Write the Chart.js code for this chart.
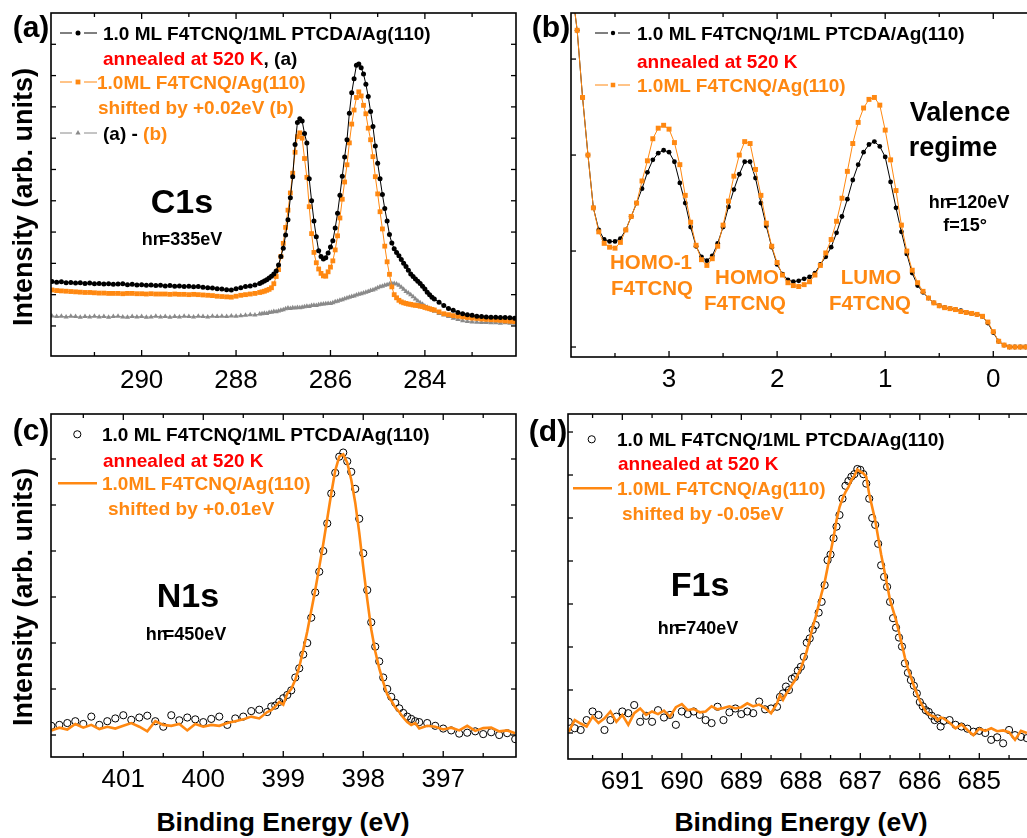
<!DOCTYPE html>
<html>
<head>
<meta charset="utf-8">
<script src="https://cdn.jsdelivr.net/npm/chart.js@4.4.1/dist/chart.umd.min.js"></script>
<style>
  html, body { margin: 0; padding: 0; background: #fff; }
  body { width: 1027px; height: 838px; overflow: hidden; position: relative;
         font-family: "Liberation Sans", Arial, sans-serif; }
  canvas { position: absolute; }
  .t { position: absolute; white-space: nowrap; line-height: 1; font-weight: bold; color: #000; z-index: 5; }
  .c { transform: translate(-50%, -50%); }
  .l { transform: translateY(-50%); }
  .or { color: #FF8811; }
  .rd { color: #FF0000; }
  .leg { font-size: 19px; }
  .hv { font-size: 18px; }
  .hv span { margin-right: -4px; }
  .core { font-size: 34px; }
  .orb { font-size: 20.5px; color: #FF8811; }
</style>
</head>
<body>
<canvas id="panelA" width="485" height="398" style="left:41px;top:3px"></canvas>
<canvas id="panelB" width="484" height="399" style="left:561px;top:3px"></canvas>
<canvas id="panelC" width="485" height="398" style="left:41px;top:404px"></canvas>
<canvas id="panelD" width="487" height="400" style="left:558px;top:404px"></canvas>

<!-- panel letters -->
<div class="t c" style="left:31px;top:27px;font-size:30px">(a)</div>
<div class="t c" style="left:551px;top:27px;font-size:30px">(b)</div>
<div class="t c" style="left:31px;top:430px;font-size:30px">(c)</div>
<div class="t c" style="left:548px;top:431px;font-size:30px">(d)</div>

<!-- axis titles -->
<div class="t" style="left:23px;top:197px;font-size:27px;transform:translate(-50%,-50%) rotate(-90deg)">Intensity (arb. units)</div>
<div class="t" style="left:23px;top:597px;font-size:27px;transform:translate(-50%,-50%) rotate(-90deg)">Intensity (arb. units)</div>
<div class="t c" style="left:283px;top:822px;font-size:26.5px">Binding Energy (eV)</div>
<div class="t c" style="left:801px;top:822px;font-size:26.5px">Binding Energy (eV)</div>

<!-- (a) C1s -->
<div class="t l leg" style="left:103px;top:33px">1.0 ML F4TCNQ/1ML PTCDA/Ag(110)</div>
<div class="t l leg" style="left:103px;top:58px"><span class="rd">annealed at 520 K</span>, (a)</div>
<div class="t l leg or" style="left:97px;top:82px">1.0ML F4TCNQ/Ag(110)</div>
<div class="t l leg or" style="left:98px;top:107px">shifted by +0.02eV (b)</div>
<div class="t l leg" style="left:103px;top:133px">(a) - <span class="or">(b)</span></div>
<div class="t c core" style="left:182px;top:201px">C1s</div>
<div class="t c hv" style="left:182px;top:239px">h<span>n</span>=335eV</div>

<!-- (b) valence band -->
<div class="t l leg" style="left:637px;top:33px">1.0 ML F4TCNQ/1ML PTCDA/Ag(110)</div>
<div class="t l leg rd" style="left:637px;top:61px">annealed at 520 K</div>
<div class="t l leg or" style="left:637px;top:85px">1.0ML F4TCNQ/Ag(110)</div>
<div class="t c" style="left:960px;top:112px;font-size:27px">Valence</div>
<div class="t c" style="left:953px;top:147px;font-size:27px">regime</div>
<div class="t c hv" style="left:969px;top:202px">h<span>n</span>=120eV</div>
<div class="t c hv" style="left:965px;top:225px">f=15°</div>
<div class="t c orb" style="left:651px;top:262px">HOMO-1</div>
<div class="t c orb" style="left:652px;top:288px">F4TCNQ</div>
<div class="t c orb" style="left:747px;top:277px">HOMO</div>
<div class="t c orb" style="left:745px;top:303px">F4TCNQ</div>
<div class="t c orb" style="left:871px;top:277px">LUMO</div>
<div class="t c orb" style="left:870px;top:303px">F4TCNQ</div>

<!-- (c) N1s -->
<div class="t l leg" style="left:102px;top:434px">1.0 ML F4TCNQ/1ML PTCDA/Ag(110)</div>
<div class="t l leg rd" style="left:103px;top:460px">annealed at 520 K</div>
<div class="t l leg or" style="left:102px;top:483px">1.0ML F4TCNQ/Ag(110)</div>
<div class="t l leg or" style="left:108px;top:508px">shifted by +0.01eV</div>
<div class="t c core" style="left:188px;top:595px">N1s</div>
<div class="t c hv" style="left:186px;top:634px">h<span>n</span>=450eV</div>

<!-- (d) F1s -->
<div class="t l leg" style="left:617px;top:439px">1.0 ML F4TCNQ/1ML PTCDA/Ag(110)</div>
<div class="t l leg rd" style="left:618px;top:463px">annealed at 520 K</div>
<div class="t l leg or" style="left:617px;top:488px">1.0ML F4TCNQ/Ag(110)</div>
<div class="t l leg or" style="left:622px;top:513px">shifted by -0.05eV</div>
<div class="t c core" style="left:700px;top:584px">F1s</div>
<div class="t c hv" style="left:698px;top:628px">h<span>n</span>=740eV</div>

<script>
// ---------- C1s (panel a) ----------
const energiesA = [
  291.9, 291.8, 291.7, 291.6, 291.5, 291.4, 291.3, 291.2, 291.1, 291.0,
  290.9, 290.8, 290.7, 290.6, 290.5, 290.4, 290.3, 290.2, 290.1, 290.0,
  289.9, 289.8, 289.7, 289.6, 289.5, 289.4, 289.3, 289.2, 289.1, 289.0,
  288.9, 288.8, 288.7, 288.6, 288.5, 288.4, 288.3, 288.2, 288.1, 288.0,
  287.9, 287.8, 287.7, 287.6, 287.5,
  287.45, 287.40, 287.35, 287.30, 287.25, 287.20, 287.15, 287.10, 287.05, 287.00,
  286.95, 286.90, 286.85, 286.80, 286.75, 286.70, 286.65, 286.60, 286.55, 286.50,
  286.45, 286.40, 286.35, 286.30, 286.25, 286.20, 286.15, 286.10, 286.05, 286.00,
  285.95, 285.90, 285.85, 285.80, 285.75, 285.70, 285.65, 285.60, 285.55, 285.50,
  285.45, 285.40, 285.35, 285.30, 285.25, 285.20, 285.15, 285.10, 285.05, 285.00,
  284.95, 284.90, 284.85, 284.80, 284.75, 284.70, 284.65, 284.60, 284.55, 284.50,
  284.45, 284.40, 284.35, 284.30, 284.25, 284.20, 284.15, 284.10, 284.05, 284.00,
  283.95, 283.90, 283.85,
  283.8, 283.7, 283.6, 283.5, 283.4, 283.3, 283.2, 283.1, 283.0, 282.9,
  282.8, 282.7, 282.6, 282.5, 282.4, 282.3, 282.2, 282.1
];
const c1sAnnealed = [
  2.42, 2.40, 2.41, 2.38, 2.39, 2.37, 2.38, 2.36, 2.37, 2.35,
  2.36, 2.34, 2.35, 2.33, 2.34, 2.35, 2.32, 2.33, 2.31, 2.32,
  2.30, 2.31, 2.29, 2.30, 2.28, 2.29, 2.27, 2.28, 2.26, 2.27,
  2.25, 2.26, 2.24, 2.22, 2.21, 2.19, 2.18, 2.16, 2.15, 2.19,
  2.22, 2.26, 2.28, 2.31, 2.36,
  2.40, 2.44, 2.48, 2.53, 2.59, 2.66, 2.76, 2.95, 3.22, 3.48,
  3.91, 4.39, 5.10, 5.77, 6.80, 7.50, 7.62, 7.55, 7.15, 6.85,
  5.70, 5.00, 4.35, 3.85, 3.40, 3.22, 3.14, 3.18, 3.33, 3.52,
  3.72, 4.13, 4.60, 5.18, 5.78, 6.40, 6.95, 7.80, 8.45, 8.90,
  9.33, 9.37, 9.25, 9.05, 8.72, 8.33, 7.85, 7.37, 6.75, 6.20,
  5.70, 5.20, 4.75, 4.35, 3.92, 3.65, 3.47, 3.35, 3.24, 3.12,
  3.00, 2.90, 2.78, 2.66, 2.58, 2.50, 2.43, 2.36, 2.27, 2.18,
  2.08, 2.00, 1.92,
  1.86, 1.76, 1.65, 1.56, 1.50, 1.43, 1.39, 1.36, 1.34, 1.31,
  1.30, 1.29, 1.28, 1.28, 1.27, 1.27, 1.26, 1.25
];
const c1sOnAg = [
  2.15, 2.13, 2.12, 2.11, 2.10, 2.09, 2.08, 2.07, 2.07, 2.06,
  2.05, 2.05, 2.04, 2.04, 2.04, 2.03, 2.04, 2.04, 2.03, 2.03,
  2.02, 2.03, 2.02, 2.02, 2.02, 2.01, 2.02, 2.01, 2.01, 2.00,
  2.01, 2.00, 1.99, 1.98, 1.97, 1.95, 1.94, 1.93, 1.92, 1.95,
  1.98, 2.00, 2.02, 2.04, 2.07,
  2.09, 2.11, 2.14, 2.17, 2.22, 2.35, 2.58, 2.80, 3.22, 3.64,
  4.15, 4.70, 5.25, 5.88, 6.55, 7.05, 7.17, 7.00, 6.35, 5.75,
  4.81, 3.95, 3.35, 3.02, 2.82, 2.68, 2.60, 2.59, 2.73, 2.88,
  3.08, 3.43, 3.88, 4.45, 5.05, 5.60, 6.15, 6.85, 7.45, 7.90,
  8.30, 8.48, 8.35, 8.05, 7.78, 7.32, 6.95, 6.41, 5.77, 5.22,
  4.65, 4.10, 3.55, 3.05, 2.65, 2.25, 2.00, 1.90, 1.82, 1.77,
  1.74, 1.72, 1.70, 1.69, 1.67, 1.66, 1.65, 1.63, 1.62, 1.59,
  1.57, 1.55, 1.53,
  1.51, 1.45, 1.39, 1.36, 1.33, 1.31, 1.29, 1.27, 1.25, 1.24,
  1.22, 1.21, 1.20, 1.19, 1.18, 1.16, 1.15, 1.14
];
const c1sDifference = [
  1.32, 1.30, 1.31, 1.29, 1.31, 1.30, 1.28, 1.30, 1.29, 1.31,
  1.29, 1.30, 1.28, 1.30, 1.31, 1.29, 1.28, 1.30, 1.29, 1.30,
  1.28, 1.29, 1.31, 1.29, 1.30, 1.28, 1.30, 1.29, 1.31, 1.30,
  1.29, 1.31, 1.30, 1.29, 1.31, 1.30, 1.31, 1.30, 1.32, 1.31,
  1.33, 1.34, 1.36, 1.35, 1.38,
  1.39, 1.41, 1.40, 1.43, 1.44, 1.46, 1.45, 1.48, 1.50, 1.52,
  1.55, 1.57, 1.56, 1.58, 1.57, 1.59, 1.58, 1.60, 1.61, 1.63,
  1.62, 1.65, 1.66, 1.65, 1.68, 1.69, 1.70, 1.71, 1.72, 1.72,
  1.74, 1.77, 1.79, 1.82, 1.84, 1.87, 1.89, 1.92, 1.94, 1.96,
  1.99, 2.01, 2.03, 2.05, 2.08, 2.10, 2.13, 2.15, 2.18, 2.22,
  2.25, 2.27, 2.30, 2.32, 2.34, 2.36, 2.36, 2.34, 2.30, 2.24,
  2.17, 2.10, 2.05, 2.00, 1.93, 1.86, 1.80, 1.74, 1.69, 1.64,
  1.60, 1.55, 1.51,
  1.47, 1.40, 1.35, 1.30, 1.25, 1.21, 1.17, 1.14, 1.13, 1.12,
  1.11, 1.11, 1.10, 1.10, 1.09, 1.10, 1.09, 1.09
];
const xMajorA = [290, 288, 286, 284];
const xMinorA = [291, 289, 287, 285, 283];
const yTicksA = [1, 2, 3, 4, 5, 6, 7, 8, 9, 10];

// ---------- valence band (panel b) ----------
const energiesB = [
  3.90, 3.85, 3.80, 3.75, 3.70, 3.65, 3.60, 3.55, 3.50, 3.45,
  3.40, 3.35, 3.30, 3.25, 3.20, 3.15, 3.10, 3.05, 3.00, 2.95,
  2.90, 2.85, 2.80, 2.75, 2.70, 2.65, 2.60, 2.55, 2.50, 2.45,
  2.40, 2.35, 2.30, 2.25, 2.20, 2.15, 2.10, 2.05, 2.00, 1.95,
  1.90, 1.85, 1.80, 1.75, 1.70, 1.65, 1.60, 1.55, 1.50, 1.45,
  1.40, 1.35, 1.30, 1.25, 1.20, 1.15, 1.10, 1.05, 1.00, 0.95,
  0.90, 0.85, 0.80, 0.75, 0.70, 0.65, 0.60, 0.55, 0.50, 0.45,
  0.40, 0.35, 0.30, 0.25, 0.20, 0.15, 0.10, 0.05, 0.00, -0.05,
  -0.10, -0.15, -0.20, -0.25, -0.30, -0.35, -0.40
];
const vbAnnealed = [
  3.75, 3.30, 2.60, 2.00, 1.45, 1.22, 1.12, 1.10, 1.10, 1.13,
  1.22, 1.36, 1.50, 1.65, 1.82, 1.95, 2.02, 2.05, 2.03, 1.93,
  1.71, 1.50, 1.25, 1.05, 0.94, 0.90, 0.95, 1.08, 1.25, 1.46,
  1.64, 1.80, 1.93, 1.93, 1.76, 1.50, 1.26, 1.04, 0.86, 0.76,
  0.70, 0.68, 0.69, 0.71, 0.73, 0.77, 0.86, 0.94, 1.04, 1.19,
  1.36, 1.54, 1.74, 1.90, 2.03, 2.11, 2.14, 2.09, 1.98, 1.72,
  1.45, 1.20, 0.97, 0.77, 0.64, 0.57, 0.51, 0.46, 0.43, 0.41,
  0.40, 0.39, 0.38, 0.36, 0.35, 0.34, 0.32, 0.25, 0.15, 0.06,
  0.02, 0.00, 0.00, 0.00, 0.00, 0.00, 0.00
];
const vbOnAg = [
  3.75, 3.30, 2.60, 2.00, 1.45, 1.20, 1.08, 1.04, 1.03, 1.09,
  1.22, 1.36, 1.50, 1.73, 1.94, 2.17, 2.28, 2.31, 2.27, 2.13,
  1.90, 1.58, 1.30, 1.06, 0.91, 0.85, 0.92, 1.05, 1.27, 1.52,
  1.78, 2.00, 2.14, 2.12, 1.85, 1.58, 1.29, 1.05, 0.88, 0.75,
  0.67, 0.64, 0.63, 0.65, 0.68, 0.75, 0.85, 0.98, 1.12, 1.31,
  1.55, 1.83, 2.12, 2.34, 2.49, 2.58, 2.60, 2.52, 2.26, 1.95,
  1.63, 1.27, 1.00, 0.80, 0.67, 0.58, 0.51, 0.46, 0.43, 0.41,
  0.40, 0.39, 0.37, 0.36, 0.35, 0.34, 0.32, 0.26, 0.16, 0.06,
  0.02, 0.00, 0.00, 0.00, 0.00, 0.00, 0.00
];
const xMajorB = [3, 2, 1, 0];
const xMinorB = [3.5, 2.5, 1.5, 0.5];
const yTicksB = [0, 1, 2, 3];

// ---------- N1s (panel c) ----------
const energiesC = [
  401.9, 401.8, 401.7, 401.6, 401.5, 401.4, 401.3, 401.2, 401.1, 401.0,
  400.9, 400.8, 400.7, 400.6, 400.5, 400.4, 400.3, 400.2, 400.1, 400.0,
  399.9, 399.8, 399.7, 399.6, 399.5, 399.4, 399.3, 399.2,
  399.15, 399.10, 399.05, 399.00, 398.95, 398.90, 398.85, 398.80, 398.75, 398.70,
  398.65, 398.60, 398.55, 398.50, 398.45, 398.40, 398.35, 398.30, 398.25, 398.20,
  398.15, 398.10, 398.05, 398.00, 397.95, 397.90, 397.85, 397.80, 397.75, 397.70,
  397.65, 397.60, 397.55, 397.50, 397.45, 397.40, 397.35, 397.30,
  397.2, 397.1, 397.0, 396.9, 396.8, 396.7, 396.6, 396.5, 396.4, 396.3, 396.2, 396.1
];
const n1sAnnealed = [
  0.20, 0.22, 0.26, 0.30, 0.24, 0.40, 0.22, 0.30, 0.36, 0.43,
  0.33, 0.38, 0.42, 0.30, 0.18, 0.43, 0.32, 0.38, 0.34, 0.28,
  0.35, 0.40, 0.22, 0.36, 0.40, 0.52, 0.55, 0.50,
  0.62, 0.64, 0.72, 0.80, 0.87, 0.97, 1.25, 1.45, 1.75, 2.00,
  2.55, 3.10, 3.55, 4.00, 4.60, 5.25, 5.70, 6.05, 6.14, 5.95,
  5.72, 5.35, 4.70, 3.95, 3.15, 2.45, 1.92, 1.60, 1.25, 1.00,
  0.83, 0.70, 0.58, 0.48, 0.40, 0.35, 0.30, 0.28,
  0.26, 0.20, 0.14, 0.10, 0.03, 0.05, 0.08, 0.02, 0.06, 0.00, 0.04, -0.09
];
const n1sOnAg = [
  0.10, 0.16, 0.12, 0.24, 0.16, 0.22, 0.13, 0.18, 0.14, 0.20,
  0.26, 0.18, 0.08, 0.30, 0.22, 0.20, 0.24, 0.10, 0.24, 0.18,
  0.22, 0.20, 0.26, 0.30, 0.34, 0.40, 0.36, 0.50,
  0.54, 0.62, 0.72, 0.66, 0.90, 1.00, 1.20, 1.48, 1.85, 2.25,
  2.70, 3.15, 3.65, 4.15, 4.70, 5.25, 5.75, 6.05, 6.10, 5.92,
  5.55, 5.05, 4.40, 3.65, 2.95, 2.30, 1.82, 1.45, 1.15, 0.88,
  0.75, 0.60, 0.50, 0.38, 0.28, 0.22, 0.26, 0.14,
  0.20, 0.18, 0.12, 0.16, 0.10, 0.20, 0.09, 0.15, 0.16, 0.08, 0.10, 0.04
];
const xMajorC = [401, 400, 399, 398, 397];
const xMinorC = [401.5, 400.5, 399.5, 398.5, 397.5, 396.5];
const yTicksC = [0, 1, 2, 3, 4, 5, 6];

// ---------- F1s (panel d) ----------
const energiesD = [
  691.9, 691.8, 691.7, 691.6, 691.5, 691.4, 691.3, 691.2, 691.1, 691.0,
  690.9, 690.8, 690.7, 690.6, 690.5, 690.4, 690.3, 690.2, 690.1, 690.0,
  689.9, 689.8, 689.7, 689.6, 689.5, 689.4, 689.3, 689.2, 689.1, 689.0,
  688.9, 688.8, 688.7, 688.6, 688.5, 688.4,
  688.35, 688.30, 688.25, 688.20, 688.15, 688.10, 688.05, 688.00, 687.95, 687.90,
  687.85, 687.80, 687.75, 687.70, 687.65, 687.60, 687.55, 687.50, 687.45, 687.40,
  687.35, 687.30, 687.25, 687.20, 687.15, 687.10, 687.05, 687.00, 686.95, 686.90,
  686.85, 686.80, 686.75, 686.70, 686.65, 686.60, 686.55, 686.50, 686.45, 686.40,
  686.35, 686.30, 686.25, 686.20, 686.15, 686.10, 686.05, 686.00, 685.95, 685.90,
  685.85, 685.80, 685.75, 685.70, 685.65,
  685.6, 685.5, 685.4, 685.3, 685.2, 685.1, 685.0, 684.9, 684.8, 684.7,
  684.6, 684.5, 684.4, 684.3, 684.2
];
const f1sAnnealed = [
  0.26, 0.11, 0.07, 0.30, 0.50, 0.42, 0.07, 0.30, 0.38, 0.50,
  0.46, 0.65, 0.26, 0.40, 0.26, 0.53, 0.36, 0.42, 0.19, 0.50,
  0.44, 0.50, 0.42, 0.30, 0.23, 0.61, 0.30, 0.48, 0.57, 0.44,
  0.50, 0.46, 0.73, 0.55, 0.57, 0.61,
  0.84, 0.92, 1.08, 1.00, 1.26, 1.30, 1.45, 1.54, 1.77, 2.10,
  2.20, 2.40, 2.51, 2.80, 3.05, 3.44, 4.02, 4.15, 4.53, 4.80,
  5.07, 5.45, 5.75, 5.86, 5.96, 6.02, 6.14, 6.12, 6.02, 5.80,
  5.45, 5.00, 4.84, 4.40, 3.90, 3.63, 3.40, 3.05, 2.67, 2.45,
  2.22, 2.01, 1.62, 1.40, 1.23, 1.10, 0.92, 0.72, 0.62, 0.53,
  0.49, 0.40, 0.30, 0.34, 0.15,
  0.28, 0.30, 0.19, 0.15, 0.10, 0.03, 0.05, 0.00, -0.16, -0.10,
  -0.24, 0.07, -0.05, -0.09, -0.12
];
const f1sOnAg = [
  0.03, 0.30, 0.22, 0.15, 0.38, 0.23, 0.34, 0.50, 0.26, 0.42,
  0.19, 0.46, 0.57, 0.42, 0.50, 0.44, 0.52, 0.38, 0.60, 0.67,
  0.53, 0.56, 0.48, 0.50, 0.62, 0.55, 0.58, 0.62, 0.57, 0.60,
  0.69, 0.62, 0.66, 0.58, 0.46, 0.69,
  0.88, 0.77, 0.90, 1.00, 1.12, 1.22, 1.36, 1.50, 1.70, 1.90,
  2.18, 2.47, 2.70, 2.98, 3.25, 3.50, 3.85, 4.20, 4.55, 4.95,
  5.25, 5.45, 5.60, 5.72, 5.88, 5.98, 6.13, 6.08, 6.04, 5.96,
  5.55, 5.25, 4.95, 4.55, 4.15, 3.80, 3.45, 3.09, 2.86, 2.63,
  2.35, 2.05, 1.75, 1.50, 1.30, 1.10, 0.92, 0.75, 0.62, 0.50,
  0.44, 0.40, 0.38, 0.30, 0.36,
  0.34, 0.24, 0.11, 0.20, 0.07, -0.05, 0.10, 0.05, 0.11, 0.04,
  0.06, 0.02, -0.16, 0.05, 0.00
];
const xMajorD = [691, 690, 689, 688, 687, 686, 685];
const xMinorD = [691.5, 690.5, 689.5, 688.5, 687.5, 686.5, 685.5, 684.5];
const yTicksD = [0, 1, 2, 3, 4, 5, 6, 7];

// ---------- styling ----------
const FONT = '"Liberation Sans", Arial, sans-serif';
const ORANGE = '#FF8811';
const GRAY = '#8A8A8A';

function points(xs, ys) { return xs.map((x, i) => ({ x: x, y: ys[i] })); }

function drawMark(ctx, style, x, y, r, color, open) {
  ctx.beginPath();
  if (style === 'circle') {
    ctx.arc(x, y, r, 0, Math.PI * 2);
  } else if (style === 'rect') {
    const s = r * Math.SQRT2;
    ctx.rect(x - s / 2, y - s / 2, s, s);
  } else if (style === 'triangle') {
    for (let k = 0; k < 3; k++) {
      const a = -Math.PI / 2 + k * 2 * Math.PI / 3;
      const px = x + r * Math.cos(a), py = y + r * Math.sin(a);
      if (k === 0) ctx.moveTo(px, py); else ctx.lineTo(px, py);
    }
    ctx.closePath();
  }
  if (open) { ctx.strokeStyle = color; ctx.lineWidth = 1; ctx.stroke(); }
  else { ctx.fillStyle = color; ctx.fill(); }
}

// box frame with inward ticks on all four sides
const frameTicks = {
  id: 'frameTicks',
  afterDraw(chart, args, o) {
    const ctx = chart.ctx, a = chart.chartArea;
    const xs = chart.scales.x, ys = chart.scales.y;
    ctx.save();
    ctx.strokeStyle = '#000';
    ctx.lineWidth = 1.6;
    ctx.strokeRect(a.left, a.top, a.right - a.left, a.bottom - a.top);
    ctx.lineWidth = 1.3;
    const seg = (x1, y1, x2, y2) => { ctx.beginPath(); ctx.moveTo(x1, y1); ctx.lineTo(x2, y2); ctx.stroke(); };
    const xTick = (v, len) => {
      const p = xs.getPixelForValue(v);
      if (p <= a.left || p >= a.right) return;
      seg(p, a.bottom, p, a.bottom - len);
      seg(p, a.top, p, a.top + len);
    };
    o.xMajor.forEach(v => xTick(v, 6));
    o.xMinor.forEach(v => xTick(v, 4));
    o.yTicks.forEach(v => {
      const p = ys.getPixelForValue(v);
      if (p <= a.top || p >= a.bottom) return;
      seg(a.left, p, a.left + 5, p);
      seg(a.right, p, a.right - 5, p);
    });
    ctx.restore();
  }
};

// legend keys (line samples and symbols); item coordinates are page coordinates
const legendKeys = {
  id: 'legendKeys',
  afterDraw(chart, args, o) {
    const ctx = chart.ctx;
    ctx.save();
    o.items.forEach(m => {
      const y = m.y - o.offY;
      if (m.x1 !== undefined) {
        ctx.strokeStyle = m.color;
        ctx.lineWidth = m.lw || 1;
        ctx.beginPath();
        if (m.gap) {
          ctx.moveTo(m.x1 - o.offX, y); ctx.lineTo(m.mx - m.gap - o.offX, y);
          ctx.moveTo(m.mx + m.gap - o.offX, y); ctx.lineTo(m.x2 - o.offX, y);
        } else {
          ctx.moveTo(m.x1 - o.offX, y); ctx.lineTo(m.x2 - o.offX, y);
        }
        ctx.stroke();
      }
      if (m.style) drawMark(ctx, m.style, m.mx - o.offX, y, m.r, m.color, m.open);
    });
    ctx.restore();
  }
};

function panel(id, o) {
  return new Chart(document.getElementById(id), {
    type: 'scatter',
    data: { datasets: o.datasets },
    options: {
      responsive: false,
      animation: false,
      events: [],
      layout: { padding: { left: 10, top: 10, right: 10, bottom: 0 } },
      plugins: {
        legend: { display: false },
        tooltip: { enabled: false },
        frameTicks: { xMajor: o.xMajor, xMinor: o.xMinor, yTicks: o.yTicks },
        legendKeys: { offX: o.offX, offY: o.offY, items: o.keys }
      },
      scales: {
        x: {
          type: 'linear', reverse: true, min: o.xMin, max: o.xMax,
          grid: { display: false, drawTicks: false },
          border: { display: false },
          ticks: {
            padding: o.tickPad, color: '#000', autoSkip: false, maxRotation: 0,
            font: { family: FONT, size: 26 },
            callback: v => String(v)
          },
          afterBuildTicks: s => { s.ticks = o.xMajor.map(v => ({ value: v })); },
          afterFit: s => { s.height = 45; }
        },
        y: { type: 'linear', display: false, min: o.yMin, max: o.yMax }
      }
    },
    plugins: [frameTicks, legendKeys]
  });
}

const lineDefaults = { showLine: true, tension: 0, clip: 0, pointBorderWidth: 0 };

panel('panelA', {
  offX: 41, offY: 3, tickPad: 9,
  xMin: 282.07, xMax: 291.92, yMin: 0.04, yMax: 11.0,
  xMajor: xMajorA, xMinor: xMinorA, yTicks: yTicksA,
  datasets: [
    Object.assign({ data: points(energiesA, c1sAnnealed), order: 1,
      borderColor: '#000', borderWidth: 1, pointStyle: 'circle', pointRadius: 2.5,
      pointBackgroundColor: '#000', pointBorderColor: '#000' }, lineDefaults),
    Object.assign({ data: points(energiesA, c1sOnAg), order: 2,
      borderColor: ORANGE, borderWidth: 1, pointStyle: 'rect', pointRadius: 3.4,
      pointBackgroundColor: ORANGE, pointBorderColor: ORANGE }, lineDefaults),
    Object.assign({ data: points(energiesA, c1sDifference), order: 3,
      borderColor: GRAY, borderWidth: 1, pointStyle: 'triangle', pointRadius: 3.0,
      pointBackgroundColor: GRAY, pointBorderColor: GRAY }, lineDefaults)
  ],
  keys: [
    { x1: 60, x2: 97, mx: 78, gap: 6, y: 33, color: '#000', style: 'circle', r: 2.5 },
    { x1: 60, x2: 97, mx: 78, gap: 6, y: 82, color: ORANGE, style: 'rect', r: 3.4 },
    { x1: 60, x2: 97, mx: 78, gap: 6, y: 133, color: GRAY, style: 'triangle', r: 3.0 }
  ]
});

panel('panelB', {
  offX: 561, offY: 3, tickPad: 7,
  xMin: -0.386, xMax: 3.907, yMin: -0.104, yMax: 3.48,
  xMajor: xMajorB, xMinor: xMinorB, yTicks: yTicksB,
  datasets: [
    Object.assign({ data: points(energiesB, vbOnAg), order: 1,
      borderColor: ORANGE, borderWidth: 1, pointStyle: 'rect', pointRadius: 3.5,
      pointBackgroundColor: ORANGE, pointBorderColor: ORANGE }, lineDefaults),
    Object.assign({ data: points(energiesB, vbAnnealed), order: 2,
      borderColor: '#000', borderWidth: 1, pointStyle: 'circle', pointRadius: 2.4,
      pointBackgroundColor: '#000', pointBorderColor: '#000' }, lineDefaults)
  ],
  keys: [
    { x1: 595, x2: 630, mx: 613, gap: 5, y: 33, color: '#000', style: 'circle', r: 2.2 },
    { x1: 595, x2: 630, mx: 613, gap: 5, y: 85, color: ORANGE, style: 'rect', r: 3.2 }
  ]
});

panel('panelC', {
  offX: 41, offY: 404, tickPad: 7,
  xMin: 396.09, xMax: 401.904, yMin: -0.478, yMax: 6.978,
  xMajor: xMajorC, xMinor: xMinorC, yTicks: yTicksC,
  datasets: [
    { data: points(energiesC, n1sOnAg), order: 1, showLine: true, tension: 0, clip: 0,
      borderColor: ORANGE, borderWidth: 2.6, pointRadius: 0 },
    { data: points(energiesC, n1sAnnealed), order: 2, showLine: false, clip: 0,
      pointStyle: 'circle', pointRadius: 3.6, pointBorderWidth: 1,
      pointBorderColor: '#000', pointBackgroundColor: 'rgba(0,0,0,0)' }
  ],
  keys: [
    { mx: 77.3, y: 434.3, color: '#000', style: 'circle', r: 3.6, open: true },
    { x1: 58, x2: 97, y: 483.3, color: ORANGE, lw: 2.6 }
  ]
});

panel('panelD', {
  offX: 558, offY: 404, tickPad: 7,
  xMin: 684.064, xMax: 691.913, yMin: -0.605, yMax: 7.419,
  xMajor: xMajorD, xMinor: xMinorD, yTicks: yTicksD,
  datasets: [
    { data: points(energiesD, f1sOnAg), order: 1, showLine: true, tension: 0, clip: 0,
      borderColor: ORANGE, borderWidth: 2.6, pointRadius: 0 },
    { data: points(energiesD, f1sAnnealed), order: 2, showLine: false, clip: 0,
      pointStyle: 'circle', pointRadius: 3.6, pointBorderWidth: 1,
      pointBorderColor: '#000', pointBackgroundColor: 'rgba(0,0,0,0)' }
  ],
  keys: [
    { mx: 591.7, y: 439.3, color: '#000', style: 'circle', r: 3.6, open: true },
    { x1: 573, x2: 612, y: 488.3, color: ORANGE, lw: 2.6 }
  ]
});
</script>
</body>
</html>
